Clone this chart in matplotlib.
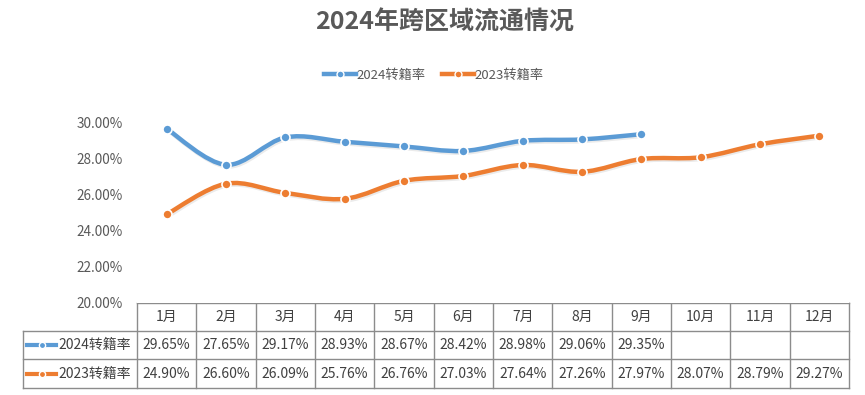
import matplotlib.pyplot as plt
import matplotlib.patheffects as pe
from matplotlib.path import Path
from matplotlib.patches import PathPatch
from matplotlib.lines import Line2D
from matplotlib.transforms import blended_transform_factory
import numpy as np

plt.rcParams['font.family'] = ['Noto Sans CJK SC', 'DejaVu Sans']

months = ["1月", "2月", "3月", "4月", "5月", "6月", "7月", "8月", "9月", "10月", "11月", "12月"]
rate_2024 = [29.65, 27.65, 29.17, 28.93, 28.67, 28.42, 28.98, 29.06, 29.35]
rate_2023 = [24.90, 26.60, 26.09, 25.76, 26.76, 27.03, 27.64, 27.26, 27.97, 28.07, 28.79, 29.27]
names = ["2024转籍率", "2023转籍率"]
colors = ["#5B9BD5", "#ED7D31"]

W, H = 865, 395
fig = plt.figure(figsize=(W / 100, H / 100), dpi=100)

# plot area in pixels
left, right, top, bottom = 137, 849, 122.5, 302.5
ax = fig.add_axes([left / W, 1 - bottom / H, (right - left) / W, (bottom - top) / H])
ax.set_xlim(-0.5, len(months) - 0.5)
ax.set_ylim(20, 30)
ax.set_yticks(np.arange(20, 30.1, 2))
ax.set_yticklabels(["%.2f%%" % v for v in np.arange(20, 30.1, 2)])
ax.tick_params(axis='y', length=0, pad=10, labelsize=9.8, labelcolor="#595959")
ax.set_xticks([])
for s in ax.spines.values():
    s.set_visible(False)


def smooth_path(xs, ys):
    # Bezier path through the points (Catmull-Rom style control points, like Excel smoothing)
    p = np.column_stack([xs, ys]).astype(float)
    verts = [p[0]]
    codes = [Path.MOVETO]
    n = len(p)
    for i in range(n - 1):
        p0 = p[i - 1] if i > 0 else p[i]
        p3 = p[i + 2] if i + 2 < n else p[i + 1]
        c1 = p[i] + (p[i + 1] - p0) / 6
        c2 = p[i + 1] - (p3 - p[i]) / 6
        verts += [c1, c2, p[i + 1]]
        codes += [Path.CURVE4] * 3
    return Path(verts, codes)


shadow = [pe.SimpleLineShadow(offset=(0.8, -1.2), alpha=0.08, shadow_color="black"), pe.Normal()]
handles = []
for vals, name, c in zip([rate_2024, rate_2023], names, colors):
    xs = np.arange(len(vals))
    patch = PathPatch(smooth_path(xs, vals), facecolor="none", edgecolor=c, lw=3.2,
                      capstyle="round", joinstyle="round", path_effects=shadow)
    ax.add_patch(patch)
    ax.plot(xs, vals, 'o', ls='none', ms=6.5, mfc=c, mec="white", mew=1.2, zorder=3)
    handles.append(Line2D([], [], color=c, lw=3.2, marker='o', ms=5, mfc=c, mec="white", mew=1))

ax.set_title("2024年跨区域流通情况", fontsize=18, fontweight='bold', color="#595959",
             x=(445 - left) / (right - left), y=1 + (122.5 - 31) / (bottom - top), va='center')

fig.legend(handles, names, loc='center', bbox_to_anchor=(434 / W, 1 - 75 / H), ncol=2,
           frameon=False, fontsize=9.5, labelcolor="#595959", handlelength=2.4,
           handletextpad=0.1, columnspacing=1.2)

# data table under the plot
ov = fig.add_axes([0, 0, 1, 1], zorder=-1)
ov.set_xlim(0, W)
ov.set_ylim(H, 0)
ov.axis('off')
tr = blended_transform_factory(ax.transData, ov.transData)
rows_y = [302.5, 330.5, 359, 388]
tab_left = 23
lc = "#8c8c8c"
ncol = len(months)
# horizontal lines
ov.plot([tab_left, right], [rows_y[1]] * 2, color=lc, lw=1)
ov.plot([tab_left, right], [rows_y[2]] * 2, color=lc, lw=1)
ov.plot([tab_left, right], [rows_y[3]] * 2, color=lc, lw=1)
ov.plot([left, right], [rows_y[0]] * 2, color=lc, lw=1)
ov.plot([tab_left, tab_left], [rows_y[1], rows_y[3]], color=lc, lw=1)
for i in range(ncol + 1):
    ax_x = i - 0.5
    ov.plot([ax_x, ax_x], [rows_y[0], rows_y[3]], color=lc, lw=1, transform=tr)

tc = "#404040"
for i, m in enumerate(months):
    ov.text(i, (rows_y[0] + rows_y[1]) / 2, m, transform=tr, ha='center', va='center',
            fontsize=10, color=tc)
for r, vals in enumerate([rate_2024, rate_2023]):
    yc = (rows_y[r + 1] + rows_y[r + 2]) / 2
    for i, v in enumerate(vals):
        ov.text(i, yc, "%.2f%%" % v, transform=tr, ha='center', va='center', fontsize=10, color=tc)
    ov.add_line(Line2D([27, 56], [yc, yc], color=colors[r], lw=3))
    ov.plot([41.5], [yc], 'o', ms=4.5, mfc=colors[r], mec="white", mew=1)
    ov.text(58, yc, names[r], ha='left', va='center', fontsize=10, color=tc)

fig.savefig("out.png", dpi=100)
